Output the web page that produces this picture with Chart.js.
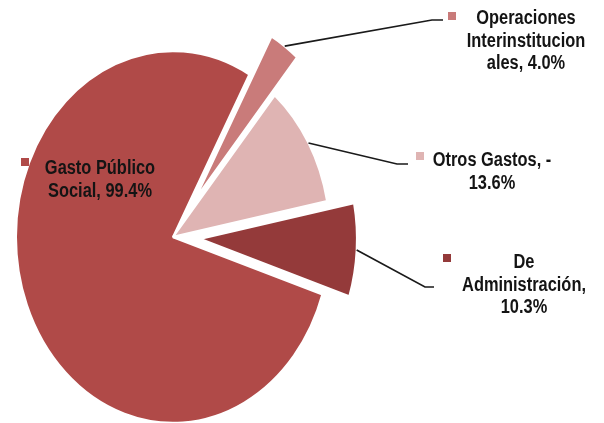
<!DOCTYPE html>
<html>
<head>
<meta charset="utf-8">
<script src="https://cdn.jsdelivr.net/npm/chart.js@4.4.1/dist/chart.umd.min.js"></script>
<style>
    html, body { margin: 0; padding: 0; background: #fff; }
    #contenedor { width: 604px; height: 423px; }
</style>
</head>
<body>
<div id="contenedor"><canvas id="graficoGasto"></canvas></div>
<script>
// Datos del gráfico
const categorias = ['Gasto Público Social', 'Operaciones Interinstitucionales', 'Otros Gastos', 'De Administración'];
const porcentajes = [99.4, 4.0, -13.6, 10.3];
const colores = ['#B04A48', '#C97B7A', '#DFB4B3', '#943A3A'];
// texto de cada etiqueta, ya partido en lineas como en el original
const etiquetas = [
    ['Gasto Público', 'Social, 99.4%'],
    ['Operaciones', 'Interinstitucion', 'ales, 4.0%'],
    ['Otros Gastos, -', '13.6%'],
    ['De', 'Administración,', '10.3%']
];

// Estilo / posiciones
const separacion = [0, 39, 0, 27];   // porciones "explotadas" (px)
const escalaY = 1.185;                // el pastel se ve ovalado
const altoLinea = 22.5;
const posEtiquetas = [
    { x: 100, y: 174, marca: [21, 158] },
    { x: 526, y: 24, marca: [448, 12], codo: [432, 20], fin: [443, 20] },
    { x: 492, y: 166, marca: [416, 152], codo: [397, 164], fin: [408, 164] },
    { x: 524, y: 268, marca: [443, 254], codo: [425, 287], fin: [434, 287] }
];

const pluginPastel = {
    id: 'pastelExcel',
    beforeDatasetsDraw(chart) {
        const arcos = chart.getDatasetMeta(0).data;
        arcos.forEach((arco, i) => {
            if (arco._envuelto) return;
            arco._envuelto = true;
            arco.draw = function (c, area) {
                const s = separacion[i];
                const a = (this.startAngle + this.endAngle) / 2;
                c.save();
                c.translate(Math.cos(a) * s, Math.sin(a) * s);
                Chart.ArcElement.prototype.draw.call(this, c, area);
                c.restore();
            };
        });
        const ctx = chart.ctx;
        const cy = arcos[0].y;
        ctx.save();
        ctx.translate(0, cy);
        ctx.scale(1, escalaY);
        ctx.translate(0, -cy);
    },
    afterDatasetsDraw(chart) {
        const ctx = chart.ctx;
        ctx.restore();
        const arcos = chart.getDatasetMeta(0).data;

        arcos.forEach((arco, i) => {
            const p = posEtiquetas[i];
            // linea guia
            if (p.codo) {
                const a = (arco.startAngle + arco.endAngle) / 2;
                const r = arco.outerRadius + separacion[i];
                const x0 = arco.x + Math.cos(a) * r;
                const y0 = arco.y + Math.sin(a) * r * escalaY;
                ctx.save();
                ctx.strokeStyle = '#1a1a1a';
                ctx.lineWidth = 1.7;
                ctx.beginPath();
                ctx.moveTo(x0, y0);
                ctx.lineTo(p.codo[0], p.codo[1]);
                ctx.lineTo(p.fin[0], p.fin[1]);
                ctx.stroke();
                ctx.restore();
            }
            // marca de leyenda
            ctx.fillStyle = colores[i];
            ctx.fillRect(p.marca[0], p.marca[1], 8, 8);
            // texto
            etiquetas[i].forEach((linea, j) => {
                ctx.save();
                ctx.translate(p.x, p.y + j * altoLinea);
                ctx.scale(0.82, 1);
                ctx.font = 'bold 20px "Liberation Sans", Arial, sans-serif';
                ctx.textAlign = 'center';
                ctx.textBaseline = 'alphabetic';
                ctx.fillStyle = '#141414';
                ctx.fillText(linea, 0, 0);
                ctx.restore();
            });
        });
    }
};

const ctxPastel = document.getElementById('graficoGasto').getContext('2d');
const graficoPastel = new Chart(ctxPastel, {
    type: 'pie',
    data: {
        labels: categorias,
        datasets: [{
            data: porcentajes.map(Math.abs), // el pastel usa el valor absoluto
            backgroundColor: colores,
            borderColor: '#ffffff',
            borderWidth: 2,
            clip: false
        }]
    },
    options: {
        responsive: true,
        maintainAspectRatio: false,
        animation: false,
        rotation: 108,
        radius: 157,
        layout: {
            padding: { left: 0, right: 258, top: 51, bottom: 0 }
        },
        plugins: {
            legend: { display: false },
            tooltip: { enabled: false }
        }
    },
    plugins: [pluginPastel]
});
</script>
</body>
</html>
